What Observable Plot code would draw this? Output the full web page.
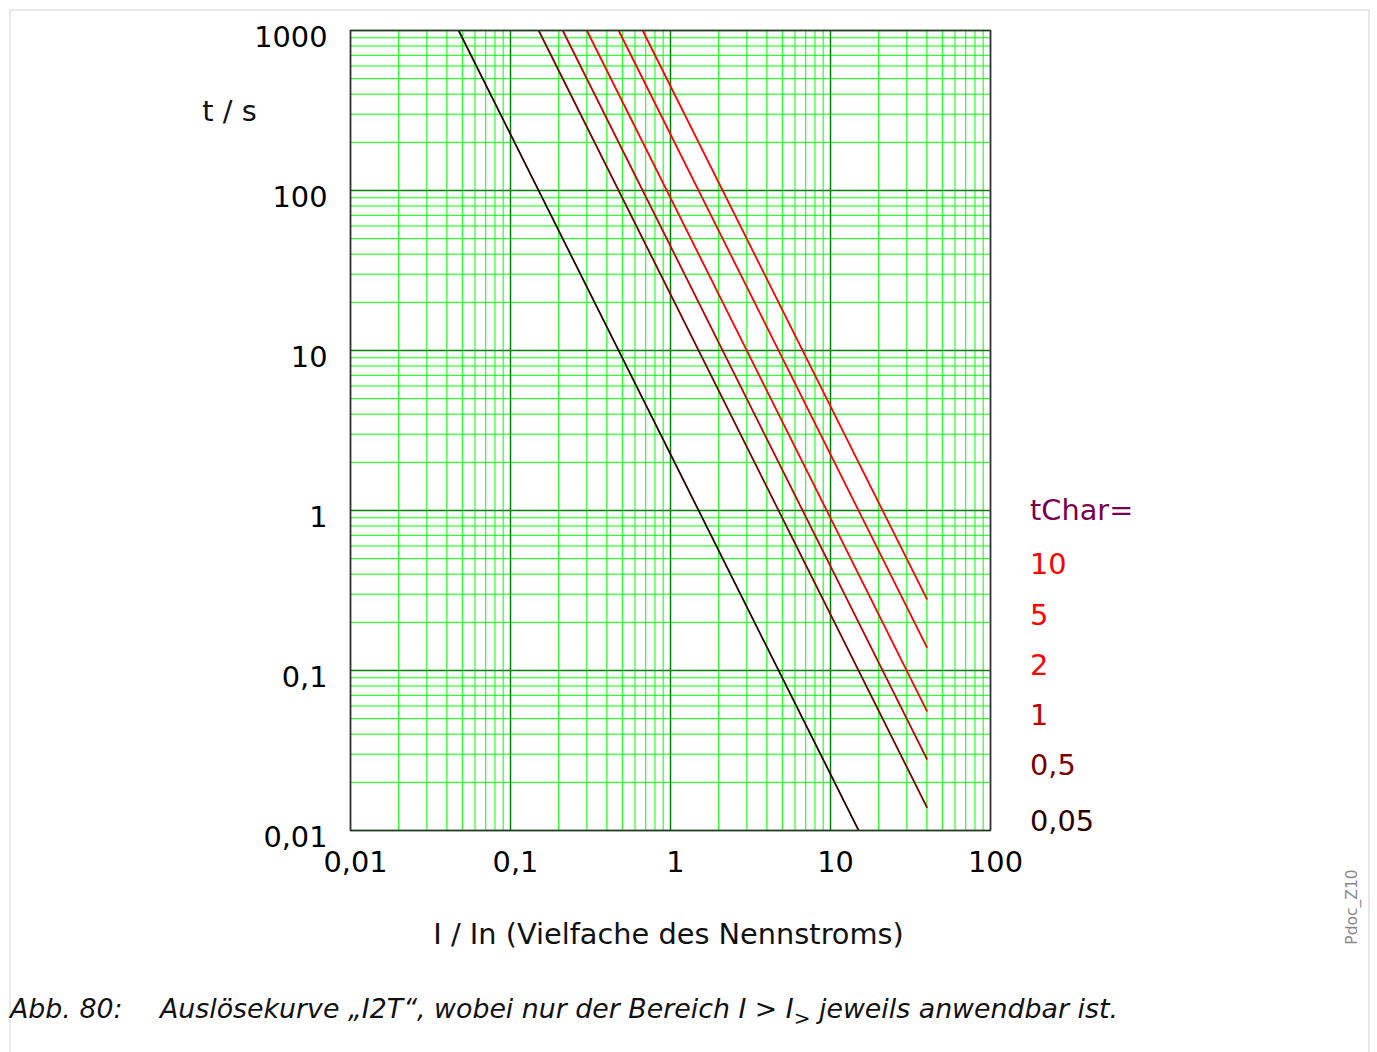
<!DOCTYPE html>
<html>
<head>
<meta charset="utf-8">
<script src="https://cdn.jsdelivr.net/npm/d3@7"></script>
<script src="https://cdn.jsdelivr.net/npm/@observablehq/plot@0.6"></script>
<style>
  html, body { margin: 0; padding: 0; background: #fff; }
  body { width: 1377px; height: 1052px; position: relative; overflow: hidden; font-family: "DejaVu Sans", sans-serif; }
  #border { position: absolute; left: 9px; top: 9px; width: 1361px; height: 1100px; border: 2px solid #e8e8e8; box-sizing: border-box; }
  #chart { position: absolute; left: 0; top: 0; }
  #legend { position: absolute; left: 1030px; top: 485px; font-size: 28.8px; line-height: 50.3px; }
  #legend div { white-space: nowrap; }
  #caption { position: absolute; left: 10px; top: 993px; font-size: 26.8px; font-style: italic; color: #111; white-space: nowrap; }
  #caption .num { display: inline-block; width: 150px; }
  #caption sub { font-size: 20px; vertical-align: -7px; line-height: 0; }
  #doc { position: absolute; left: 1352px; top: 907px; transform: translate(-50%, -50%) rotate(-90deg); font-size: 15.5px; color: #8a8a8a; white-space: nowrap; }
</style>
</head>
<body>
<div id="border"></div>
<div id="chart"></div>
<div id="legend"></div>
<div id="caption"><span class="num">Abb. 80:</span>Auslösekurve „I2T“, wobei nur der Bereich I &gt; I<sub>&gt;</sub> jeweils anwendbar ist.</div>
<div id="doc">Pdoc_Z10</div>
<script>
// ---- data ----
const tChar = ["10", "5", "2", "1", "0,5", "0,05"];
const colors = ["#ff0000", "#ff0000", "#ff0000", "#c00000", "#7a0000", "#2a0000"];
const iStart = [0.67, 0.474, 0.30, 0.212, 0.15, 0.0474];   // I / In at t = 1000 s
const tStart = [1000, 1000, 1000, 1000, 1000, 1000];
const iEnd = [40, 40, 40, 40, 40, 15];
const tEnd = [0.28, 0.14, 0.056, 0.028, 0.014, 0.01];

const xTicks = [0.01, 0.1, 1, 10, 100];
const yTicks = [0.01, 0.1, 1, 10, 100, 1000];
const legendTitle = "tChar=";
const legendTitleColor = "#7a0050";

// ---- build ----
const rows = tChar.flatMap((k, i) => [
  {k, i, x: iStart[i], y: tStart[i]},
  {k, i, x: iEnd[i], y: tEnd[i]}
]);
const minorOf = (dec) => dec.slice(0, -1).flatMap(d => [2, 3, 4, 5, 6, 7, 8, 9].map(m => m * d));
const xMinor = minorOf(xTicks);
const yMinor = minorOf(yTicks);
const fmt = d => String(d).replace(".", ",");
const FS = 28.8;

const plot = Plot.plot({
  width: 1377,
  height: 960,
  marginLeft: 350,
  marginRight: 387,
  marginTop: 30,
  marginBottom: 130,
  style: {fontFamily: "DejaVu Sans, sans-serif", background: "transparent", color: "#000"},
  x: {type: "log", domain: [0.01, 100]},
  y: {type: "log", domain: [0.01, 1000]},
  marks: [
    Plot.ruleX(xMinor, {stroke: "#00ff00", strokeWidth: 1}),
    Plot.ruleY(yMinor, {stroke: "#00ff00", strokeWidth: 1}),
    Plot.ruleX(xTicks, {stroke: "#008000", strokeWidth: 1.5}),
    Plot.ruleY(yTicks, {stroke: "#008000", strokeWidth: 1.5}),
    Plot.line(rows, {x: "x", y: "y", z: "k", stroke: d => colors[d.i], strokeWidth: 1.8, clip: true}),
    Plot.frame({stroke: "#333", strokeWidth: 1.5}),
    Plot.axisX({ticks: xTicks, tickSize: 0, tickPadding: 21, dx: 5, fontSize: FS, tickFormat: fmt, label: null}),
    Plot.axisY({ticks: yTicks, tickSize: 0, tickPadding: 23, dy: 7, fontSize: FS, tickFormat: fmt, label: null}),
    Plot.text(["I / In (Vielfache des Nennstroms)"], {frameAnchor: "bottom", lineAnchor: "middle", dy: 104, dx: -2, fontSize: FS, fill: "#111"}),
    Plot.text(["t / s"], {frameAnchor: "top-left", textAnchor: "middle", lineAnchor: "middle", dx: -121, dy: 81, fontSize: FS, fill: "#111"})
  ]
});
document.getElementById("chart").appendChild(plot);

const legend = document.getElementById("legend");
const title = document.createElement("div");
title.textContent = legendTitle;
title.style.color = legendTitleColor;
title.style.marginBottom = "4px";
legend.appendChild(title);
tChar.forEach((k, i) => {
  const d = document.createElement("div");
  d.textContent = k;
  d.style.color = colors[i];
  if (i === tChar.length - 1) d.style.marginTop = "5px";
  legend.appendChild(d);
});
</script>
</body>
</html>
